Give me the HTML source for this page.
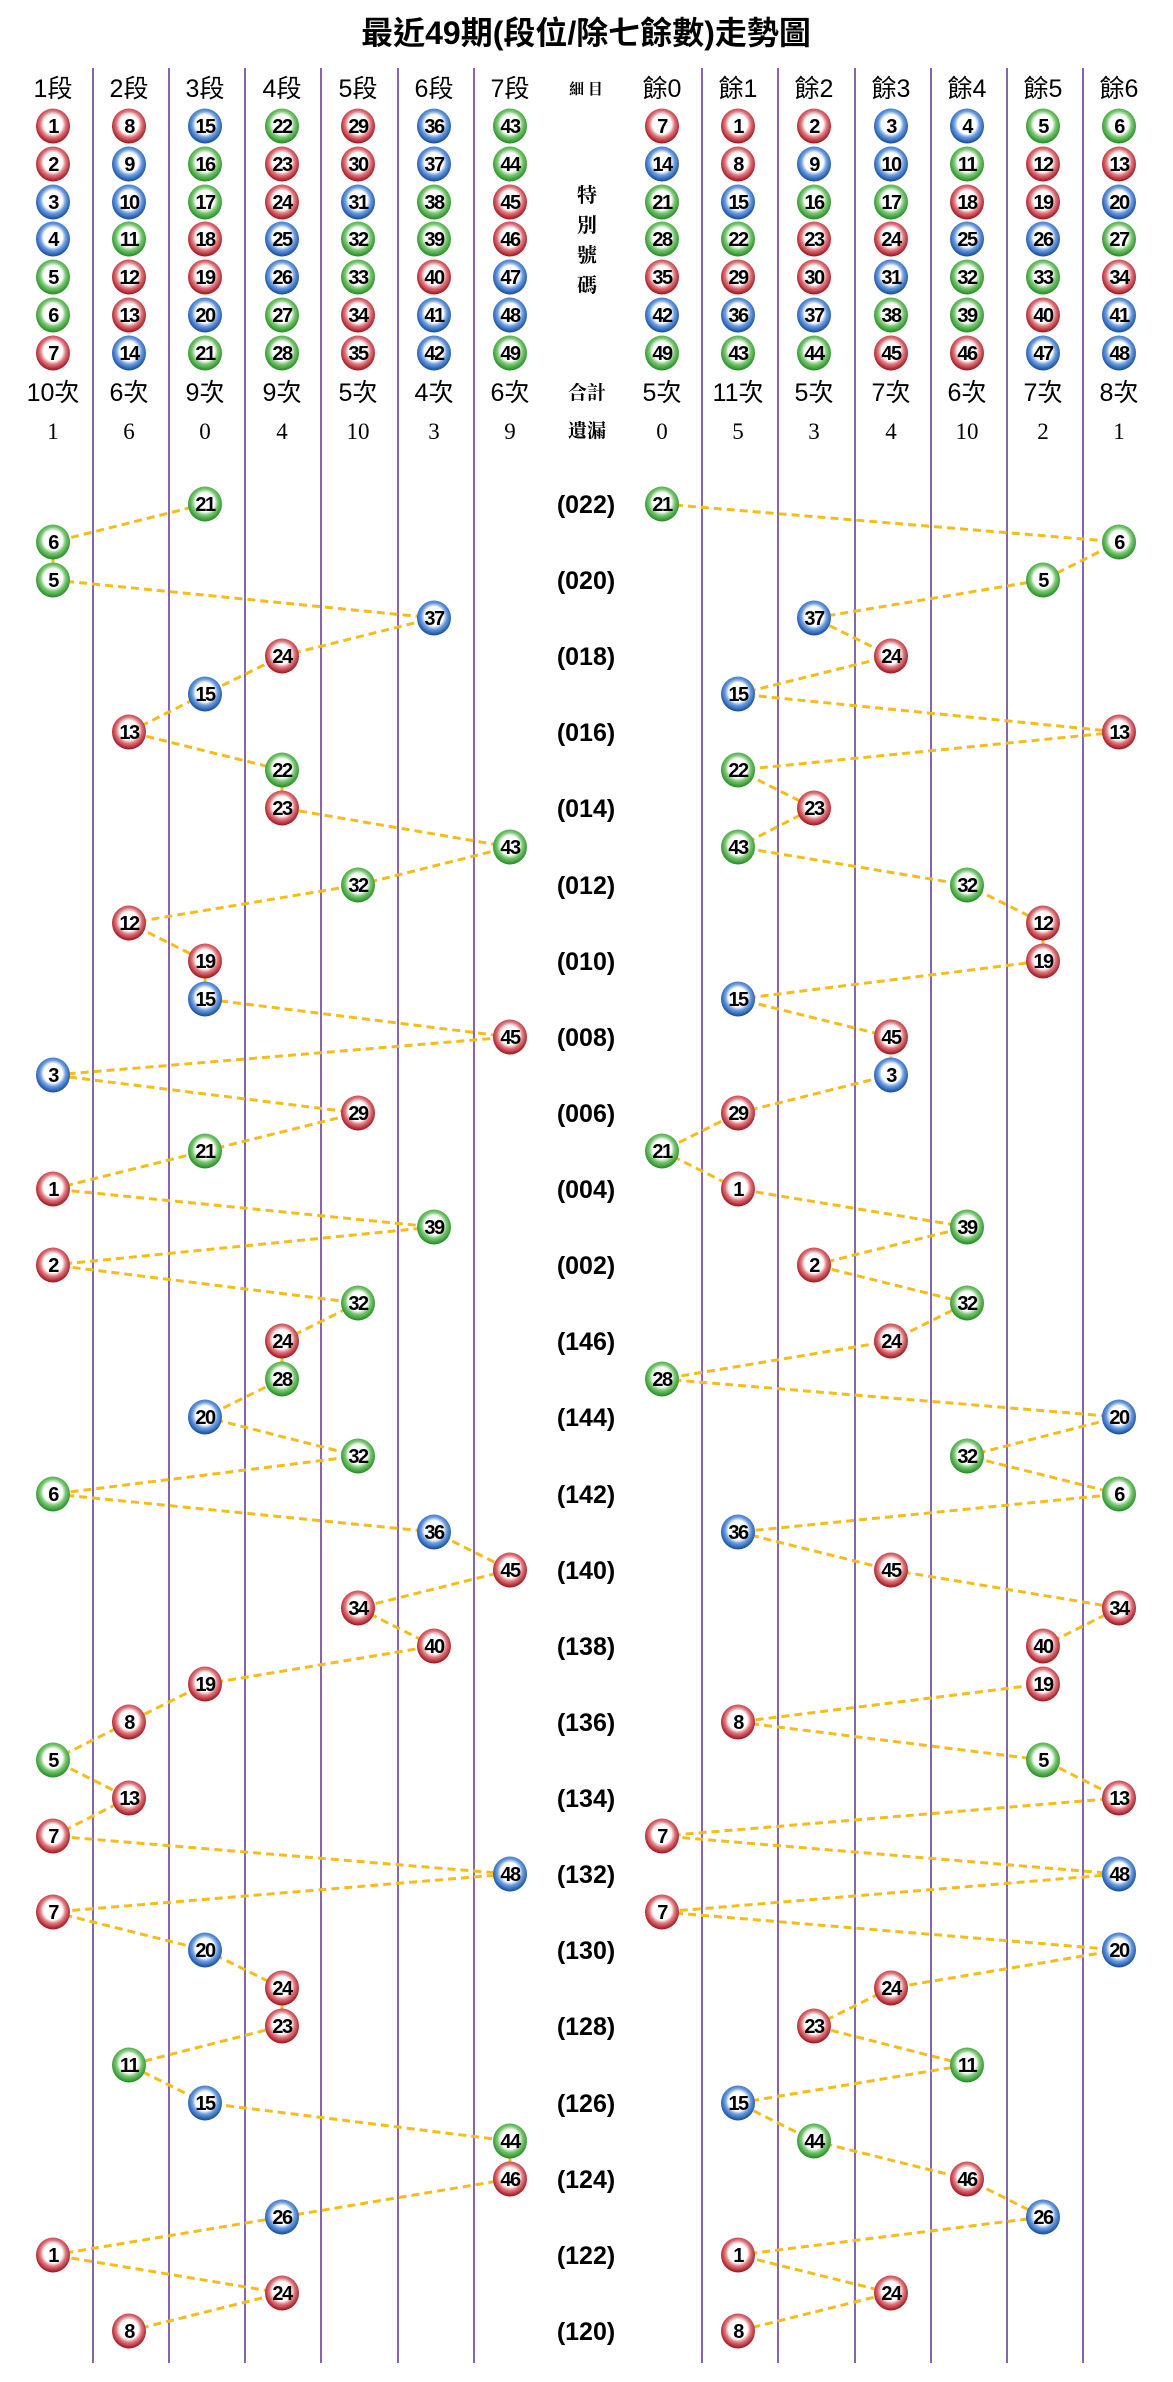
<!DOCTYPE html>
<html><head><meta charset="utf-8">
<style>
html,body{margin:0;padding:0;background:#fff;}
svg{display:block;}
.t{font-family:"Liberation Sans","Noto Sans CJK TC",sans-serif;}
.h{font-family:"Liberation Sans","Noto Sans CJK TC",sans-serif;font-size:25px;text-anchor:middle;}
.s{font-family:"Liberation Serif","Noto Serif CJK SC",serif;font-size:23px;text-anchor:middle;}
.m{font-family:"Noto Serif CJK SC","Noto Sans CJK TC",serif;text-anchor:middle;font-weight:bold;}
.p{font-family:"Liberation Sans",sans-serif;font-size:25px;font-weight:bold;text-anchor:middle;}
.n text{font-family:"Liberation Sans",sans-serif;font-size:20px;font-weight:bold;text-anchor:middle;fill:#000;letter-spacing:-1.5px;}
.v{stroke:#6b3f96;stroke-width:1.6;}
.d{fill:none;stroke:#f5bc1c;stroke-width:3;stroke-dasharray:8 5;}
</style></head>
<body>
<svg width="1173" height="2382" viewBox="0 0 1173 2382" xmlns="http://www.w3.org/2000/svg">
<defs>
<radialGradient id="gR" cx="0.5" cy="0.45" r="0.55"><stop offset="0.5" stop-color="#fff"/><stop offset="0.68" stop-color="#e07a80"/><stop offset="1" stop-color="#a00c16"/></radialGradient>
<radialGradient id="gB" cx="0.5" cy="0.45" r="0.55"><stop offset="0.5" stop-color="#fff"/><stop offset="0.68" stop-color="#6c9ee0"/><stop offset="1" stop-color="#1048a0"/></radialGradient>
<radialGradient id="gG" cx="0.5" cy="0.45" r="0.55"><stop offset="0.5" stop-color="#fff"/><stop offset="0.68" stop-color="#7cc874"/><stop offset="1" stop-color="#1e8a1e"/></radialGradient>
<ellipse id="R" cx="0" cy="0" rx="17" ry="17.5" fill="url(#gR)"/>
<ellipse id="B" cx="0" cy="0" rx="17" ry="17.5" fill="url(#gB)"/>
<ellipse id="G" cx="0" cy="0" rx="17" ry="17.5" fill="url(#gG)"/>
</defs>

<text x="586" y="44" class="t" font-size="32" font-weight="bold" text-anchor="middle">最近49期(段位/除七餘數)走勢圖</text>

<g class="v">
<line x1="93" y1="68" x2="93" y2="2363"/><line x1="169" y1="68" x2="169" y2="2363"/><line x1="245" y1="68" x2="245" y2="2363"/><line x1="321" y1="68" x2="321" y2="2363"/><line x1="398" y1="68" x2="398" y2="2363"/><line x1="474" y1="68" x2="474" y2="2363"/>
<line x1="702" y1="68" x2="702" y2="2363"/><line x1="778" y1="68" x2="778" y2="2363"/><line x1="855" y1="68" x2="855" y2="2363"/><line x1="931" y1="68" x2="931" y2="2363"/><line x1="1007" y1="68" x2="1007" y2="2363"/><line x1="1083" y1="68" x2="1083" y2="2363"/>
</g>

<g class="h">
<text x="53" y="97">1段</text><text x="129" y="97">2段</text><text x="205" y="97">3段</text><text x="282" y="97">4段</text><text x="358" y="97">5段</text><text x="434" y="97">6段</text><text x="510" y="97">7段</text>
<text x="662" y="97">餘0</text><text x="738" y="97">餘1</text><text x="814" y="97">餘2</text><text x="891" y="97">餘3</text><text x="967" y="97">餘4</text><text x="1043" y="97">餘5</text><text x="1119" y="97">餘6</text>
<text x="53" y="401">10次</text><text x="129" y="401">6次</text><text x="205" y="401">9次</text><text x="282" y="401">9次</text><text x="358" y="401">5次</text><text x="434" y="401">4次</text><text x="510" y="401">6次</text>
<text x="662" y="401">5次</text><text x="738" y="401">11次</text><text x="814" y="401">5次</text><text x="891" y="401">7次</text><text x="967" y="401">6次</text><text x="1043" y="401">7次</text><text x="1119" y="401">8次</text>
</g>
<g class="s">
<text x="53" y="439">1</text><text x="129" y="439">6</text><text x="205" y="439">0</text><text x="282" y="439">4</text><text x="358" y="439">10</text><text x="434" y="439">3</text><text x="510" y="439">9</text>
<text x="662" y="439">0</text><text x="738" y="439">5</text><text x="814" y="439">3</text><text x="891" y="439">4</text><text x="967" y="439">10</text><text x="1043" y="439">2</text><text x="1119" y="439">1</text>
</g>
<g class="m">
<text x="586" y="94" font-size="15">細 目</text>
<text x="587" y="202" font-size="20">特</text><text x="587" y="232" font-size="20">別</text><text x="587" y="262" font-size="20">號</text><text x="587" y="292" font-size="20">碼</text>
<text x="587" y="399" font-size="19">合計</text><text x="587" y="437" font-size="19">遺漏</text>
</g>

<g class="n">
<use href="#R" x="53" y="126"/><text x="53" y="133">1</text>
<use href="#R" x="53" y="164"/><text x="53" y="171">2</text>
<use href="#B" x="53" y="202"/><text x="53" y="209">3</text>
<use href="#B" x="53" y="239"/><text x="53" y="246">4</text>
<use href="#G" x="53" y="277"/><text x="53" y="284">5</text>
<use href="#G" x="53" y="315"/><text x="53" y="322">6</text>
<use href="#R" x="53" y="353"/><text x="53" y="360">7</text>
<use href="#R" x="129" y="126"/><text x="129" y="133">8</text>
<use href="#B" x="129" y="164"/><text x="129" y="171">9</text>
<use href="#B" x="129" y="202"/><text x="129" y="209">10</text>
<use href="#G" x="129" y="239"/><text x="129" y="246">11</text>
<use href="#R" x="129" y="277"/><text x="129" y="284">12</text>
<use href="#R" x="129" y="315"/><text x="129" y="322">13</text>
<use href="#B" x="129" y="353"/><text x="129" y="360">14</text>
<use href="#B" x="205" y="126"/><text x="205" y="133">15</text>
<use href="#G" x="205" y="164"/><text x="205" y="171">16</text>
<use href="#G" x="205" y="202"/><text x="205" y="209">17</text>
<use href="#R" x="205" y="239"/><text x="205" y="246">18</text>
<use href="#R" x="205" y="277"/><text x="205" y="284">19</text>
<use href="#B" x="205" y="315"/><text x="205" y="322">20</text>
<use href="#G" x="205" y="353"/><text x="205" y="360">21</text>
<use href="#G" x="282" y="126"/><text x="282" y="133">22</text>
<use href="#R" x="282" y="164"/><text x="282" y="171">23</text>
<use href="#R" x="282" y="202"/><text x="282" y="209">24</text>
<use href="#B" x="282" y="239"/><text x="282" y="246">25</text>
<use href="#B" x="282" y="277"/><text x="282" y="284">26</text>
<use href="#G" x="282" y="315"/><text x="282" y="322">27</text>
<use href="#G" x="282" y="353"/><text x="282" y="360">28</text>
<use href="#R" x="358" y="126"/><text x="358" y="133">29</text>
<use href="#R" x="358" y="164"/><text x="358" y="171">30</text>
<use href="#B" x="358" y="202"/><text x="358" y="209">31</text>
<use href="#G" x="358" y="239"/><text x="358" y="246">32</text>
<use href="#G" x="358" y="277"/><text x="358" y="284">33</text>
<use href="#R" x="358" y="315"/><text x="358" y="322">34</text>
<use href="#R" x="358" y="353"/><text x="358" y="360">35</text>
<use href="#B" x="434" y="126"/><text x="434" y="133">36</text>
<use href="#B" x="434" y="164"/><text x="434" y="171">37</text>
<use href="#G" x="434" y="202"/><text x="434" y="209">38</text>
<use href="#G" x="434" y="239"/><text x="434" y="246">39</text>
<use href="#R" x="434" y="277"/><text x="434" y="284">40</text>
<use href="#B" x="434" y="315"/><text x="434" y="322">41</text>
<use href="#B" x="434" y="353"/><text x="434" y="360">42</text>
<use href="#G" x="510" y="126"/><text x="510" y="133">43</text>
<use href="#G" x="510" y="164"/><text x="510" y="171">44</text>
<use href="#R" x="510" y="202"/><text x="510" y="209">45</text>
<use href="#R" x="510" y="239"/><text x="510" y="246">46</text>
<use href="#B" x="510" y="277"/><text x="510" y="284">47</text>
<use href="#B" x="510" y="315"/><text x="510" y="322">48</text>
<use href="#G" x="510" y="353"/><text x="510" y="360">49</text>

<use href="#R" x="662" y="126"/><text x="662" y="133">7</text>
<use href="#B" x="662" y="164"/><text x="662" y="171">14</text>
<use href="#G" x="662" y="202"/><text x="662" y="209">21</text>
<use href="#G" x="662" y="239"/><text x="662" y="246">28</text>
<use href="#R" x="662" y="277"/><text x="662" y="284">35</text>
<use href="#B" x="662" y="315"/><text x="662" y="322">42</text>
<use href="#G" x="662" y="353"/><text x="662" y="360">49</text>
<use href="#R" x="738" y="126"/><text x="738" y="133">1</text>
<use href="#R" x="738" y="164"/><text x="738" y="171">8</text>
<use href="#B" x="738" y="202"/><text x="738" y="209">15</text>
<use href="#G" x="738" y="239"/><text x="738" y="246">22</text>
<use href="#R" x="738" y="277"/><text x="738" y="284">29</text>
<use href="#B" x="738" y="315"/><text x="738" y="322">36</text>
<use href="#G" x="738" y="353"/><text x="738" y="360">43</text>
<use href="#R" x="814" y="126"/><text x="814" y="133">2</text>
<use href="#B" x="814" y="164"/><text x="814" y="171">9</text>
<use href="#G" x="814" y="202"/><text x="814" y="209">16</text>
<use href="#R" x="814" y="239"/><text x="814" y="246">23</text>
<use href="#R" x="814" y="277"/><text x="814" y="284">30</text>
<use href="#B" x="814" y="315"/><text x="814" y="322">37</text>
<use href="#G" x="814" y="353"/><text x="814" y="360">44</text>
<use href="#B" x="891" y="126"/><text x="891" y="133">3</text>
<use href="#B" x="891" y="164"/><text x="891" y="171">10</text>
<use href="#G" x="891" y="202"/><text x="891" y="209">17</text>
<use href="#R" x="891" y="239"/><text x="891" y="246">24</text>
<use href="#B" x="891" y="277"/><text x="891" y="284">31</text>
<use href="#G" x="891" y="315"/><text x="891" y="322">38</text>
<use href="#R" x="891" y="353"/><text x="891" y="360">45</text>
<use href="#B" x="967" y="126"/><text x="967" y="133">4</text>
<use href="#G" x="967" y="164"/><text x="967" y="171">11</text>
<use href="#R" x="967" y="202"/><text x="967" y="209">18</text>
<use href="#B" x="967" y="239"/><text x="967" y="246">25</text>
<use href="#G" x="967" y="277"/><text x="967" y="284">32</text>
<use href="#G" x="967" y="315"/><text x="967" y="322">39</text>
<use href="#R" x="967" y="353"/><text x="967" y="360">46</text>
<use href="#G" x="1043" y="126"/><text x="1043" y="133">5</text>
<use href="#R" x="1043" y="164"/><text x="1043" y="171">12</text>
<use href="#R" x="1043" y="202"/><text x="1043" y="209">19</text>
<use href="#B" x="1043" y="239"/><text x="1043" y="246">26</text>
<use href="#G" x="1043" y="277"/><text x="1043" y="284">33</text>
<use href="#R" x="1043" y="315"/><text x="1043" y="322">40</text>
<use href="#B" x="1043" y="353"/><text x="1043" y="360">47</text>
<use href="#G" x="1119" y="126"/><text x="1119" y="133">6</text>
<use href="#R" x="1119" y="164"/><text x="1119" y="171">13</text>
<use href="#B" x="1119" y="202"/><text x="1119" y="209">20</text>
<use href="#G" x="1119" y="239"/><text x="1119" y="246">27</text>
<use href="#R" x="1119" y="277"/><text x="1119" y="284">34</text>
<use href="#B" x="1119" y="315"/><text x="1119" y="322">41</text>
<use href="#B" x="1119" y="353"/><text x="1119" y="360">48</text>
</g>

<g class="p">
<text x="586" y="513">(022)</text><text x="586" y="589">(020)</text><text x="586" y="665">(018)</text><text x="586" y="741">(016)</text><text x="586" y="817">(014)</text><text x="586" y="894">(012)</text><text x="586" y="970">(010)</text><text x="586" y="1046">(008)</text><text x="586" y="1122">(006)</text><text x="586" y="1198">(004)</text><text x="586" y="1274">(002)</text><text x="586" y="1350">(146)</text><text x="586" y="1426">(144)</text><text x="586" y="1503">(142)</text><text x="586" y="1579">(140)</text><text x="586" y="1655">(138)</text><text x="586" y="1731">(136)</text><text x="586" y="1807">(134)</text><text x="586" y="1883">(132)</text><text x="586" y="1959">(130)</text><text x="586" y="2035">(128)</text><text x="586" y="2112">(126)</text><text x="586" y="2188">(124)</text><text x="586" y="2264">(122)</text><text x="586" y="2340">(120)</text>
</g>

<polyline class="d" points="205,504 53,542 53,580 434,618 282,656 205,694 129,732 282,770 282,808 510,847 358,885 129,923 205,961 205,999 510,1037 53,1075 358,1113 205,1151 53,1189 434,1227 53,1265 358,1303 282,1341 282,1379 205,1417 358,1456 53,1494 434,1532 510,1570 358,1608 434,1646 205,1684 129,1722 53,1760 129,1798 53,1836 510,1874 53,1912 205,1950 282,1988 282,2026 129,2065 205,2103 510,2141 510,2179 282,2217 53,2255 282,2293 129,2331"/>
<polyline class="d" points="662,504 1119,542 1043,580 814,618 891,656 738,694 1119,732 738,770 814,808 738,847 967,885 1043,923 1043,961 738,999 891,1037 891,1075 738,1113 662,1151 738,1189 967,1227 814,1265 967,1303 891,1341 662,1379 1119,1417 967,1456 1119,1494 738,1532 891,1570 1119,1608 1043,1646 1043,1684 738,1722 1043,1760 1119,1798 662,1836 1119,1874 662,1912 1119,1950 891,1988 814,2026 967,2065 738,2103 814,2141 967,2179 1043,2217 738,2255 891,2293 738,2331"/>

<g class="n">
<use href="#G" x="205" y="504"/><text x="205" y="511">21</text><use href="#G" x="662" y="504"/><text x="662" y="511">21</text>
<use href="#G" x="53" y="542"/><text x="53" y="549">6</text><use href="#G" x="1119" y="542"/><text x="1119" y="549">6</text>
<use href="#G" x="53" y="580"/><text x="53" y="587">5</text><use href="#G" x="1043" y="580"/><text x="1043" y="587">5</text>
<use href="#B" x="434" y="618"/><text x="434" y="625">37</text><use href="#B" x="814" y="618"/><text x="814" y="625">37</text>
<use href="#R" x="282" y="656"/><text x="282" y="663">24</text><use href="#R" x="891" y="656"/><text x="891" y="663">24</text>
<use href="#B" x="205" y="694"/><text x="205" y="701">15</text><use href="#B" x="738" y="694"/><text x="738" y="701">15</text>
<use href="#R" x="129" y="732"/><text x="129" y="739">13</text><use href="#R" x="1119" y="732"/><text x="1119" y="739">13</text>
<use href="#G" x="282" y="770"/><text x="282" y="777">22</text><use href="#G" x="738" y="770"/><text x="738" y="777">22</text>
<use href="#R" x="282" y="808"/><text x="282" y="815">23</text><use href="#R" x="814" y="808"/><text x="814" y="815">23</text>
<use href="#G" x="510" y="847"/><text x="510" y="854">43</text><use href="#G" x="738" y="847"/><text x="738" y="854">43</text>
<use href="#G" x="358" y="885"/><text x="358" y="892">32</text><use href="#G" x="967" y="885"/><text x="967" y="892">32</text>
<use href="#R" x="129" y="923"/><text x="129" y="930">12</text><use href="#R" x="1043" y="923"/><text x="1043" y="930">12</text>
<use href="#R" x="205" y="961"/><text x="205" y="968">19</text><use href="#R" x="1043" y="961"/><text x="1043" y="968">19</text>
<use href="#B" x="205" y="999"/><text x="205" y="1006">15</text><use href="#B" x="738" y="999"/><text x="738" y="1006">15</text>
<use href="#R" x="510" y="1037"/><text x="510" y="1044">45</text><use href="#R" x="891" y="1037"/><text x="891" y="1044">45</text>
<use href="#B" x="53" y="1075"/><text x="53" y="1082">3</text><use href="#B" x="891" y="1075"/><text x="891" y="1082">3</text>
<use href="#R" x="358" y="1113"/><text x="358" y="1120">29</text><use href="#R" x="738" y="1113"/><text x="738" y="1120">29</text>
<use href="#G" x="205" y="1151"/><text x="205" y="1158">21</text><use href="#G" x="662" y="1151"/><text x="662" y="1158">21</text>
<use href="#R" x="53" y="1189"/><text x="53" y="1196">1</text><use href="#R" x="738" y="1189"/><text x="738" y="1196">1</text>
<use href="#G" x="434" y="1227"/><text x="434" y="1234">39</text><use href="#G" x="967" y="1227"/><text x="967" y="1234">39</text>
<use href="#R" x="53" y="1265"/><text x="53" y="1272">2</text><use href="#R" x="814" y="1265"/><text x="814" y="1272">2</text>
<use href="#G" x="358" y="1303"/><text x="358" y="1310">32</text><use href="#G" x="967" y="1303"/><text x="967" y="1310">32</text>
<use href="#R" x="282" y="1341"/><text x="282" y="1348">24</text><use href="#R" x="891" y="1341"/><text x="891" y="1348">24</text>
<use href="#G" x="282" y="1379"/><text x="282" y="1386">28</text><use href="#G" x="662" y="1379"/><text x="662" y="1386">28</text>
<use href="#B" x="205" y="1417"/><text x="205" y="1424">20</text><use href="#B" x="1119" y="1417"/><text x="1119" y="1424">20</text>
<use href="#G" x="358" y="1456"/><text x="358" y="1463">32</text><use href="#G" x="967" y="1456"/><text x="967" y="1463">32</text>
<use href="#G" x="53" y="1494"/><text x="53" y="1501">6</text><use href="#G" x="1119" y="1494"/><text x="1119" y="1501">6</text>
<use href="#B" x="434" y="1532"/><text x="434" y="1539">36</text><use href="#B" x="738" y="1532"/><text x="738" y="1539">36</text>
<use href="#R" x="510" y="1570"/><text x="510" y="1577">45</text><use href="#R" x="891" y="1570"/><text x="891" y="1577">45</text>
<use href="#R" x="358" y="1608"/><text x="358" y="1615">34</text><use href="#R" x="1119" y="1608"/><text x="1119" y="1615">34</text>
<use href="#R" x="434" y="1646"/><text x="434" y="1653">40</text><use href="#R" x="1043" y="1646"/><text x="1043" y="1653">40</text>
<use href="#R" x="205" y="1684"/><text x="205" y="1691">19</text><use href="#R" x="1043" y="1684"/><text x="1043" y="1691">19</text>
<use href="#R" x="129" y="1722"/><text x="129" y="1729">8</text><use href="#R" x="738" y="1722"/><text x="738" y="1729">8</text>
<use href="#G" x="53" y="1760"/><text x="53" y="1767">5</text><use href="#G" x="1043" y="1760"/><text x="1043" y="1767">5</text>
<use href="#R" x="129" y="1798"/><text x="129" y="1805">13</text><use href="#R" x="1119" y="1798"/><text x="1119" y="1805">13</text>
<use href="#R" x="53" y="1836"/><text x="53" y="1843">7</text><use href="#R" x="662" y="1836"/><text x="662" y="1843">7</text>
<use href="#B" x="510" y="1874"/><text x="510" y="1881">48</text><use href="#B" x="1119" y="1874"/><text x="1119" y="1881">48</text>
<use href="#R" x="53" y="1912"/><text x="53" y="1919">7</text><use href="#R" x="662" y="1912"/><text x="662" y="1919">7</text>
<use href="#B" x="205" y="1950"/><text x="205" y="1957">20</text><use href="#B" x="1119" y="1950"/><text x="1119" y="1957">20</text>
<use href="#R" x="282" y="1988"/><text x="282" y="1995">24</text><use href="#R" x="891" y="1988"/><text x="891" y="1995">24</text>
<use href="#R" x="282" y="2026"/><text x="282" y="2033">23</text><use href="#R" x="814" y="2026"/><text x="814" y="2033">23</text>
<use href="#G" x="129" y="2065"/><text x="129" y="2072">11</text><use href="#G" x="967" y="2065"/><text x="967" y="2072">11</text>
<use href="#B" x="205" y="2103"/><text x="205" y="2110">15</text><use href="#B" x="738" y="2103"/><text x="738" y="2110">15</text>
<use href="#G" x="510" y="2141"/><text x="510" y="2148">44</text><use href="#G" x="814" y="2141"/><text x="814" y="2148">44</text>
<use href="#R" x="510" y="2179"/><text x="510" y="2186">46</text><use href="#R" x="967" y="2179"/><text x="967" y="2186">46</text>
<use href="#B" x="282" y="2217"/><text x="282" y="2224">26</text><use href="#B" x="1043" y="2217"/><text x="1043" y="2224">26</text>
<use href="#R" x="53" y="2255"/><text x="53" y="2262">1</text><use href="#R" x="738" y="2255"/><text x="738" y="2262">1</text>
<use href="#R" x="282" y="2293"/><text x="282" y="2300">24</text><use href="#R" x="891" y="2293"/><text x="891" y="2300">24</text>
<use href="#R" x="129" y="2331"/><text x="129" y="2338">8</text><use href="#R" x="738" y="2331"/><text x="738" y="2338">8</text>
</g>
</svg>
</body></html>
